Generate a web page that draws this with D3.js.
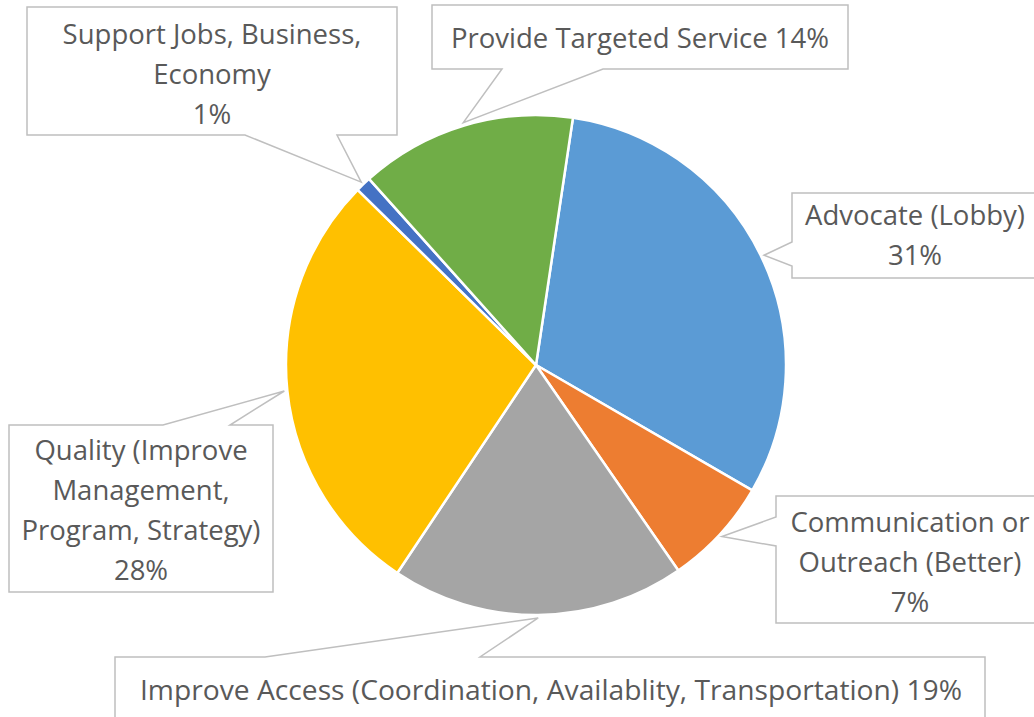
<!DOCTYPE html>
<html>
<head>
<meta charset="utf-8">
<script src="https://cdn.jsdelivr.net/npm/d3@7"></script>
<style>
  body { margin: 0; background: #fff; }
  svg { display: block; }
  .lbl { font-family: "Open Sans", "Noto Sans", sans-serif; fill: #595959; }
</style>
</head>
<body>
<div id="chart"></div>
<script>
// slices in clockwise order, starting just right of 12 o'clock
var categories = [
  "Advocate (Lobby)",
  "Communication or Outreach (Better)",
  "Improve Access (Coordination, Availablity, Transportation)",
  "Quality (Improve Management, Program, Strategy)",
  "Support Jobs, Business, Economy",
  "Provide Targeted Service"
];
var values = [31, 7, 19, 28, 1, 14];
var colours = ["#5B9BD5", "#ED7D31", "#A5A5A5", "#FFC000", "#4472C4", "#70AD47"];

// how each label is broken into lines
var labelLines = [
  ["Advocate (Lobby)", "31%"],
  ["Communication or", "Outreach (Better)", "7%"],
  ["Improve Access (Coordination, Availablity, Transportation) 19%"],
  ["Quality (Improve", "Management,", "Program, Strategy)", "28%"],
  ["Support Jobs, Business,", "Economy", "1%"],
  ["Provide Targeted Service 14%"]
];

var width = 1034;
var height = 717;
var cx = 536, cy = 365, radius = 250;

// callout boxes: x,y,w,h ; side the pointer leaves from and two attach points along it
var boxes = [
  { x: 792, y: 193, w: 246, h: 85, side: "left", a: 242, b: 266, ty: 215, tx: 915 },
  { x: 776, y: 496, w: 272, h: 127, side: "left", a: 517, b: 546, ty: 522, tx: 910 },
  { x: 115, y: 657, w: 870, h: 90, side: "top", a: 265, b: 480, ty: 690, tx: 551, narrow: 822 },
  { x: 9, y: 425, w: 264, h: 167, side: "top", a: 163, b: 230, ty: 450, tx: 141 },
  { x: 27, y: 7, w: 370, h: 128, side: "bottom", a: 245, b: 337, ty: 34, tx: 212 },
  { x: 432, y: 5, w: 416, h: 64, side: "bottom", a: 502, b: 603, ty: 38, tx: 640 }
];

var lineGap = 40;

var svg = d3.select("#chart").append("svg")
  .attr("width", width)
  .attr("height", height);

var pie = d3.pie()
  .sort(null)
  .startAngle(8.5 * Math.PI / 180)
  .endAngle(8.5 * Math.PI / 180 + 2 * Math.PI)
  .value(function(d) { return d; });

var arcs = pie(values);

var arc = d3.arc().innerRadius(0).outerRadius(radius);
var tipArc = d3.arc().innerRadius(radius + 3).outerRadius(radius + 3);

var g = svg.append("g").attr("transform", "translate(" + cx + "," + cy + ")");

g.selectAll("path.slice")
  .data(arcs)
  .enter()
  .append("path")
  .attr("class", "slice")
  .attr("d", arc)
  .attr("fill", function(d, i) { return colours[i]; })
  .attr("stroke", "#fff")
  .attr("stroke-width", 2.5)
  .attr("stroke-linejoin", "round");

// callout outline = box with a pointer to the slice
function calloutPath(b, tip) {
  var x0 = b.x, y0 = b.y, x1 = b.x + b.w, y1 = b.y + b.h;
  var p = [];
  if (b.side === "left") {
    p = [[x0, y0], [x1, y0], [x1, y1], [x0, y1], [x0, b.b], tip, [x0, b.a]];
  } else if (b.side === "top") {
    p = [[x0, y0], [b.a, y0], tip, [b.b, y0], [x1, y0], [x1, y1], [x0, y1]];
  } else {
    p = [[x0, y0], [x1, y0], [x1, y1], [b.b, y1], tip, [b.a, y1], [x0, y1]];
  }
  return "M" + p.map(function(q) { return q.join(","); }).join("L") + "Z";
}

var labels = svg.append("g").attr("class", "labels");

arcs.forEach(function(d, i) {
  var b = boxes[i];
  var c = tipArc.centroid(d);
  var tip = [cx + c[0], cy + c[1]];

  labels.append("path")
    .attr("d", calloutPath(b, tip))
    .attr("fill", "#fff")
    .attr("stroke", "#BFBFBF")
    .attr("stroke-width", 1.5);

  var t = labels.append("text")
    .attr("class", "lbl")
    .attr("text-anchor", "middle")
    .style("font-size", "27.5px");

  labelLines[i].forEach(function(line, j) {
    var ts = t.append("tspan")
      .attr("x", b.tx)
      .attr("y", b.ty + j * lineGap)
      .attr("dy", "0.35em")
      .text(line);
    if (b.narrow) {
      ts.attr("textLength", b.narrow).attr("lengthAdjust", "spacingAndGlyphs");
    }
  });
});
</script>
</body>
</html>
